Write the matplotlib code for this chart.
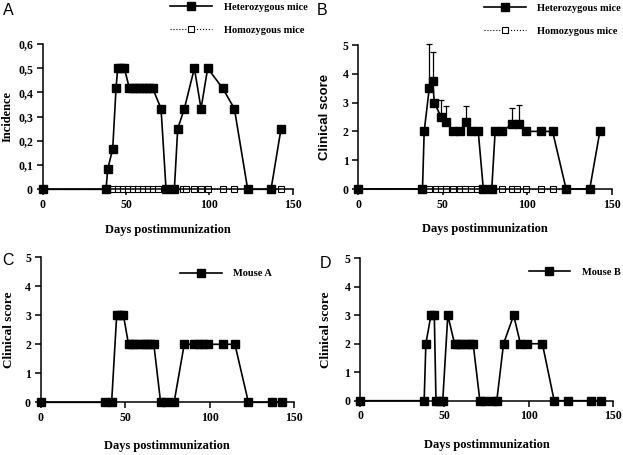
import matplotlib
matplotlib.use("Agg")
import matplotlib.pyplot as plt
import numpy as np
from matplotlib.ticker import FuncFormatter

# Panel A: incidence
days_het_a = [0, 38, 39, 42, 44, 45, 47, 49, 52, 54, 56, 58, 60, 62, 64, 66,
              71, 74, 79, 81, 85, 91, 95, 99, 108, 115, 123, 137, 143]
inc_het_a = [0, 0, 0.083, 0.167, 0.417, 0.5, 0.5, 0.5, 0.417, 0.417, 0.417, 0.417,
             0.417, 0.417, 0.417, 0.417, 0.333, 0, 0, 0.25, 0.333, 0.5, 0.333,
             0.5, 0.417, 0.333, 0, 0, 0.25]
days_hom_a = [0, 38, 42, 45, 48, 51, 54, 57, 60, 63, 66, 69, 74, 79, 84, 86,
              91, 95, 99, 108, 115, 123, 137, 143]
inc_hom_a = [0] * len(days_hom_a)

# Panel B: mean clinical score (+ upper error)
days_het_b = [0, 38, 39, 42, 44, 45, 49, 52, 56, 60, 64, 67, 71, 74, 79, 81,
              85, 91, 95, 99, 108, 115, 123, 137, 143]
score_het_b = [0, 0, 2, 3.5, 3.75, 3, 2.5, 2.33, 2, 2, 2.33, 2, 2, 0, 0, 2,
               2, 2.25, 2.25, 2, 2, 2, 0, 0, 2]
err_het_b = [0, 0, 0, 1.55, 1.0, 0, 0.6, 0.55, 0, 0, 0.55, 0, 0, 0, 0, 0,
             0, 0.55, 0.65, 0, 0, 0, 0, 0, 0]
days_hom_b = [0, 38, 42, 46, 49, 52, 56, 60, 63, 67, 70, 74, 79, 85, 91, 94,
              99, 108, 115, 123, 137]
score_hom_b = [0] * len(days_hom_b)

# Panel C: mouse A
days_c = [0, 38, 42, 45, 47, 49, 52, 54, 56, 59, 61, 63, 65, 67, 71, 74, 79,
          85, 91, 94, 96, 99, 108, 115, 123, 137, 143]
score_c = [0, 0, 0, 3, 3, 3, 2, 2, 2, 2, 2, 2, 2, 2, 0, 0, 0,
           2, 2, 2, 2, 2, 2, 2, 0, 0, 0]

# Panel D: mouse B
days_d = [0, 38, 39, 42, 44, 45, 47, 49, 52, 56, 58, 60, 63, 65, 67, 71, 74,
          79, 81, 85, 91, 95, 99, 108, 115, 123, 137, 143]
score_d = [0, 0, 2, 3, 3, 0, 0, 0, 3, 2, 2, 2, 2, 2, 2, 0, 0,
           0, 0, 2, 3, 2, 2, 2, 0, 0, 0, 0]

SERIF = "Liberation Serif"
SANS = "Liberation Sans"
W, H = 623, 455

fig = plt.figure(figsize=(W / 100, H / 100), dpi=100)


def px_axes(left, top, right, bottom):
    return fig.add_axes([left / W, 1 - bottom / H, (right - left) / W, (bottom - top) / H])


def style(ax, ymax, ystep, ylabel, ylab_x, xlab_y, comma=False,
          ylab_font=SERIF, ylab_size=9.5):
    ax.set_xlim(0, 150)
    ax.set_ylim(0, ymax)
    ax.set_xticks([0, 50, 100, 150])
    ax.set_yticks(np.arange(0, ymax + ystep / 2, ystep))
    if comma:
        ax.yaxis.set_major_formatter(
            FuncFormatter(lambda v, p: "0" if v == 0 else f"{v:.1f}".replace(".", ",")))
    for s in ["top", "right"]:
        ax.spines[s].set_visible(False)
    for s in ["left", "bottom"]:
        ax.spines[s].set_linewidth(1.1)
    ax.tick_params(direction="out", length=4, width=1.1, pad=3)
    for lab in ax.get_xticklabels() + ax.get_yticklabels():
        lab.set_fontfamily(SERIF)
        lab.set_fontweight("bold")
        lab.set_fontsize(8.5)
    ax.set_xlabel("Days postimmunization", fontfamily=SERIF, fontweight="bold", fontsize=9)
    ax.xaxis.set_label_coords(0.5, xlab_y)
    ax.xaxis.label.set_va("center")
    ax.set_ylabel(ylabel, fontfamily=ylab_font, fontweight="bold", fontsize=ylab_size)
    ax.yaxis.set_label_coords(ylab_x, 0.5)
    ax.yaxis.label.set_va("center")


het_kw = dict(color="black", lw=1.2, marker="s", ms=5.2, mfc="black", mec="black",
              clip_on=False, zorder=3)
hom_kw = dict(color="black", lw=0.8, ls=":", marker="s", ms=5.0, mfc="white", mec="black",
              mew=0.8, clip_on=False, zorder=2)
leg_kw = dict(frameon=False, loc="upper left", borderpad=0, handlelength=4.0,
              handletextpad=1.1, labelspacing=1.3,
              prop={"family": SERIF, "weight": "bold", "size": 7.5})

# A
axA = px_axes(42.7, 44, 292.7, 189.3)
axA.plot(days_hom_a, inc_hom_a, label="Homozygous mice", **hom_kw)
axA.plot(days_het_a, inc_het_a, label="Heterozygous mice", **het_kw)
style(axA, 0.6, 0.1, "Incidence", -0.139, -0.28, comma=True, ylab_size=9)
h, l = axA.get_legend_handles_labels()
axA.legend(h[::-1], l[::-1], bbox_to_anchor=(0.49, 1.32), **leg_kw)

# B
axB = px_axes(358.3, 45, 611.7, 189)
axB.plot(days_hom_b, score_hom_b, label="Homozygous mice", **hom_kw)
axB.plot(days_het_b, score_het_b, label="Heterozygous mice", **het_kw)
db = np.array(days_het_b)
sb = np.array(score_het_b)
eb = np.array(err_het_b)
m = eb > 0
axB.errorbar(db[m], sb[m], yerr=[np.zeros(m.sum()), eb[m]], fmt="none",
             ecolor="black", elinewidth=0.9, capsize=2.0, capthick=0.9,
             clip_on=False, zorder=2.5)
style(axB, 5, 1, "Clinical score", -0.131, -0.28, ylab_font=SANS, ylab_size=9.5)
h, l = axB.get_legend_handles_labels()
axB.legend(h[::-1], l[::-1], bbox_to_anchor=(0.475, 1.325), **leg_kw)

# C
axC = px_axes(40.7, 257.3, 294, 402.3)
axC.plot(days_c, score_c, label="Mouse A", **het_kw)
style(axC, 5, 1, "Clinical score", -0.125, -0.30)
axC.legend(bbox_to_anchor=(0.53, 0.955), **leg_kw)

# D
axD = px_axes(360, 258.3, 613.3, 400.7)
axD.plot(days_d, score_d, label="Mouse B", **het_kw)
style(axD, 5, 1, "Clinical score", -0.134, -0.31)
axD.legend(bbox_to_anchor=(0.645, 0.97), **leg_kw)

# panel letters
for letter, x, y in [("A", 3, 3), ("B", 317, 3), ("C", 2, 253), ("D", 320, 256)]:
    fig.text(x / W, 1 - y / H, letter, fontfamily=SANS, fontsize=11.5,
             va="top", ha="left")

fig.savefig("out.png", dpi=100)
